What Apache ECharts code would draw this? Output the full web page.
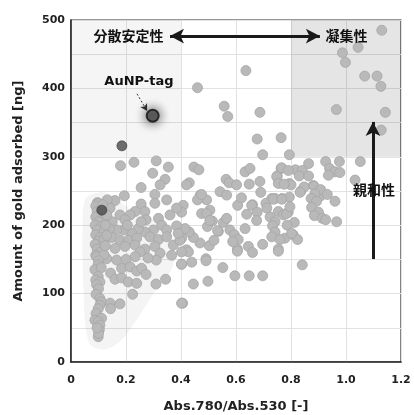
<!DOCTYPE html>
<html>
<head>
<meta charset="utf-8">
<script src="https://cdn.jsdelivr.net/npm/echarts@6/dist/echarts.min.js"></script>
<style>
    html, body { margin: 0; padding: 0; background: #fff; }
    #main { width: 414px; height: 415px; }
</style>
</head>
<body>
<div id="main"></div>
<script>
    // [Abs.780/Abs.530, gold adsorbed ng]
    var upperPts = [
        [0.46,401],[0.636,426],[0.557,374],[0.57,359],[0.687,365],[0.677,326],[0.764,328],[0.697,303],[0.794,303],
        [1.13,485],[1.044,460],[0.987,452],[0.998,438],[1.068,418],[1.113,418],[1.127,403],[0.965,369],[1.143,365],[1.128,339]
    ];
    var rightPts = [
        [0.864,290],[0.926,293],[0.976,293],[1.052,293],[0.94,283],[0.96,278],[0.978,277],[0.936,273],[1.033,266],[0.816,281],
        [0.841,280],[0.83,272],[0.864,272],[0.764,283],[0.75,272],[0.756,262],[0.794,261],[0.836,250],[0.881,258],[0.9,249],
        [0.885,242],[0.908,243],[0.96,235],[0.73,239],[0.742,239],[0.768,239],[0.8,259],[0.848,256],[0.884,257],[0.908,252],
        [0.833,248],[0.887,246],[0.932,245],[0.794,241],[0.873,239],[0.893,235],[0.875,226],[0.9,219],[0.885,214],[0.914,210],
        [0.926,208],[0.966,205],[0.79,219],[0.812,204],[0.808,186],[0.824,179],[0.841,142],[0.778,181]
    ];
    var middlePts = [
        [0.633,278],[0.651,283],[0.687,264],[0.648,260],[0.564,267],[0.575,262],[0.602,259],[0.542,249],[0.566,244],[0.66,230],
        [0.709,232],[0.493,237],[0.447,285],[0.465,281],[0.43,262],[0.42,259],[0.47,244],[0.46,237],[0.766,284],[0.79,280],
        [0.748,271],[0.754,261],[0.775,260],[0.475,245],[0.408,229],[0.402,219],[0.606,229],[0.657,229],[0.639,216],[0.677,219],
        [0.675,207],[0.712,225],[0.736,238],[0.766,238],[0.754,220],[0.724,212],[0.742,205],[0.772,215],[0.784,217],[0.796,227],
        [0.786,200],[0.733,199],[0.742,190],[0.73,183],[0.76,179],[0.802,188],[0.475,217],[0.505,222],[0.514,206],[0.496,198],
        [0.536,191],[0.554,204],[0.566,210],[0.578,193],[0.594,186],[0.608,179],[0.633,195],[0.605,165],[0.588,176],[0.645,169],
        [0.697,172],[0.754,165],[0.503,170],[0.469,174],[0.445,182],[0.43,190],[0.415,195],[0.42,164],[0.402,181],[0.491,151],
        [0.427,161],[0.439,146],[0.402,143],[0.491,148],[0.552,138],[0.596,126],[0.648,126],[0.697,126],[0.445,114],[0.498,118],
        [0.406,86],[0.605,162],[0.66,160],[0.754,162],[0.493,217],[0.505,207],[0.533,192],[0.62,240],[0.69,248],[0.52,178]
    ];
    var leftPts = [
        [0.18,287],[0.229,292],[0.31,294],[0.354,285],[0.297,276],[0.342,267],[0.324,259],[0.255,255],[0.305,245],[0.348,237],
        [0.194,243],[0.16,236],[0.132,237],[0.096,233],[0.142,225],[0.255,231],[0.305,232],[0.269,220],[0.233,220],[0.215,215],
        [0.178,215],[0.196,208],[0.273,208],[0.318,210],[0.36,215],[0.384,225],[0.33,200],[0.348,193],[0.384,199],[0.3,193],
        [0.269,190],[0.245,195],[0.221,188],[0.19,193],[0.166,193],[0.148,182],[0.178,178],[0.208,178],[0.239,181],[0.287,183],
        [0.318,179],[0.348,183],[0.372,171],[0.305,169],[0.269,165],[0.233,171],[0.196,169],[0.16,166],[0.251,161],[0.324,159],
        [0.366,156],[0.402,161],[0.396,178],[0.39,188],[0.15,205],[0.255,205],[0.205,200],[0.14,195],
        [0.13,151],[0.166,149],[0.2,150],[0.233,154],[0.31,149],[0.28,152],[0.144,130],[0.16,121],[0.184,123],[0.208,117],
        [0.224,99],[0.239,115],[0.184,137],[0.215,139],[0.239,133],[0.257,137],[0.273,128],[0.309,114],[0.344,121],[0.402,86],
        [0.402,143],[0.142,86],[0.144,78],[0.178,85]
    ];
    var columnPts = [
        [0.1,232],[0.09,228],[0.115,230],[0.095,220],[0.105,215],[0.09,212],[0.12,210],[0.1,205],[0.088,200],[0.11,198],
        [0.095,193],[0.12,190],[0.09,186],[0.105,182],[0.1,177],[0.088,172],[0.115,170],[0.095,165],[0.105,160],[0.09,156],
        [0.093,154],[0.12,157],[0.1,148],[0.099,142],[0.087,135],[0.11,138],[0.099,125],[0.09,120],[0.105,117],[0.093,113],
        [0.1,107],[0.091,99],[0.105,93],[0.11,88],[0.105,83],[0.099,78],[0.091,71],[0.087,61],[0.111,64],[0.099,59],
        [0.105,54],[0.103,47],[0.099,37],[0.1,42],[0.095,50],[0.12,180],[0.125,200],[0.13,215],[0.125,170],[0.13,185]
    ];
    var darkPts = [[0.185,316],[0.112,222]];
    var tagPt = [[0.297,360]];

    // faint outline around the low-ratio cluster
    var blobOutline = [
        [0.05,236],[0.08,246],[0.14,246],[0.2,228],[0.3,208],[0.37,180],[0.37,140],[0.3,100],
        [0.21,45],[0.15,22],[0.09,20],[0.06,35],[0.045,110],[0.042,200]
    ];

    var fontEn = '"DejaVu Sans", Verdana, sans-serif';
    var fontJa = '"Noto Sans CJK JP", sans-serif';
    var allPts = upperPts.concat(rightPts, middlePts, leftPts, columnPts);

    var myChart = echarts.init(document.getElementById('main'));
    var option = {
        animation: false,
        grid: {
            left: 71, right: 13, top: 20, bottom: 53, show: true, borderColor: '#333', borderWidth: 1.2,
            outerBoundsMode: 'none', containLabel: false
        },
        xAxis: {
            type: 'value', min: 0, max: 1.2, interval: 0.2,
            name: 'Abs.780/Abs.530 [-]', nameLocation: 'middle', nameGap: 38,
            nameTextStyle: {fontFamily: fontEn, fontWeight: 'bold', fontSize: 13, color: '#222'},
            axisLine: {lineStyle: {color: '#222', width: 1.5}},
            axisTick: {show: false},
            splitLine: {lineStyle: {color: '#e2e2e2'}},
            axisLabel: {
                fontFamily: fontEn, fontWeight: 'bold', fontSize: 11, color: '#222', margin: 13,
                formatter: function (v) { return v === 0 ? '0' : v.toFixed(1); }
            }
        },
        yAxis: {
            type: 'value', min: 0, max: 500, interval: 50,
            name: 'Amount of gold adsorbed [ng]', nameLocation: 'middle', nameGap: 46,
            nameTextStyle: {fontFamily: fontEn, fontWeight: 'bold', fontSize: 13, color: '#222'},
            axisLine: {show: true, lineStyle: {color: '#222', width: 1.5}},
            axisTick: {show: false},
            splitLine: {lineStyle: {color: '#e2e2e2'}},
            axisLabel: {
                fontFamily: fontEn, fontWeight: 'bold', fontSize: 11, color: '#222', margin: 6,
                formatter: function (v) { return v % 100 === 0 ? v : ''; }
            }
        },
        series: [
            {   // shaded zones
                type: 'scatter', data: [], z: 1,
                markArea: {
                    silent: true,
                    data: [
                        [{xAxis: 0, yAxis: 300, itemStyle: {color: 'rgba(0,0,0,0.04)'}}, {xAxis: 0.4, yAxis: 500}],
                        [{xAxis: 0.8, yAxis: 300, itemStyle: {color: 'rgba(0,0,0,0.10)'}}, {xAxis: 1.2, yAxis: 500}]
                    ]
                }
            },
            {
                type: 'custom', z: 1, silent: true,
                data: [0],
                renderItem: function (params, api) {
                    var pts = blobOutline.map(function (p) { return api.coord(p); });
                    return {
                        type: 'polygon',
                        shape: {points: pts, smooth: 0.4},
                        style: {fill: 'rgba(0,0,0,0.045)', stroke: null}
                    };
                }
            },
            {
                type: 'scatter', z: 3, data: allPts, symbolSize: 10,
                itemStyle: {color: '#b9b9b9', borderColor: '#a6a6a6', borderWidth: 0.8, opacity: 1}
            },
            {
                type: 'scatter', z: 4, data: darkPts, symbolSize: 10,
                itemStyle: {color: '#4a4a4a', borderColor: '#3a3a3a', borderWidth: 0.8}
            },
            {
                type: 'scatter', z: 5, data: tagPt, symbolSize: 12,
                itemStyle: {
                    color: '#555', borderColor: '#111', borderWidth: 2,
                    shadowBlur: 12, shadowColor: 'rgba(0,0,0,0.9)'
                }
            },
            {   // arrows
                type: 'scatter', data: [], z: 6,
                markLine: {
                    silent: true, animation: false,
                    label: {show: false},
                    data: [
                        [{coord: [0.36, 476.5], symbol: 'arrow', symbolSize: [11, 14]},
                         {coord: [0.905, 476.5], symbol: 'arrow', symbolSize: [11, 14],
                          lineStyle: {color: '#1a1a1a', width: 3, type: 'solid'}}],
                        [{coord: [1.098, 150.6], symbol: 'none'},
                         {coord: [1.098, 351], symbol: 'arrow', symbolSize: [11, 14],
                          lineStyle: {color: '#1a1a1a', width: 3, type: 'solid'}}],
                        [{coord: [0.24, 392], symbol: 'none'},
                         {coord: [0.277, 367], symbol: 'arrow', symbolSize: [6, 7],
                          lineStyle: {color: '#333', width: 1, type: [2, 2]}}]
                    ],
                    lineStyle: {color: '#1a1a1a', width: 3, type: 'solid'}
                }
            }
        ]
    };
    myChart.setOption(option);

    function textAt(x, y, str, family, size) {
        var p = myChart.convertToPixel({gridIndex: 0}, [x, y]);
        return {
            type: 'text', x: p[0], y: p[1], z: 100,
            style: {
                text: str, fontFamily: family, fontWeight: 'bold', fontSize: size,
                fill: '#111', align: 'center', verticalAlign: 'middle'
            }
        };
    }

    myChart.setOption({
        graphic: [
            textAt(0.209, 476.5, '分散安定性', fontJa, 14),
            textAt(1.002, 476.5, '凝集性', fontJa, 14),
            textAt(1.102, 252.5, '親和性', fontJa, 14),
            textAt(0.247, 409.5, 'AuNP-tag', fontEn, 13)
        ]
    });
</script>
</body>
</html>
